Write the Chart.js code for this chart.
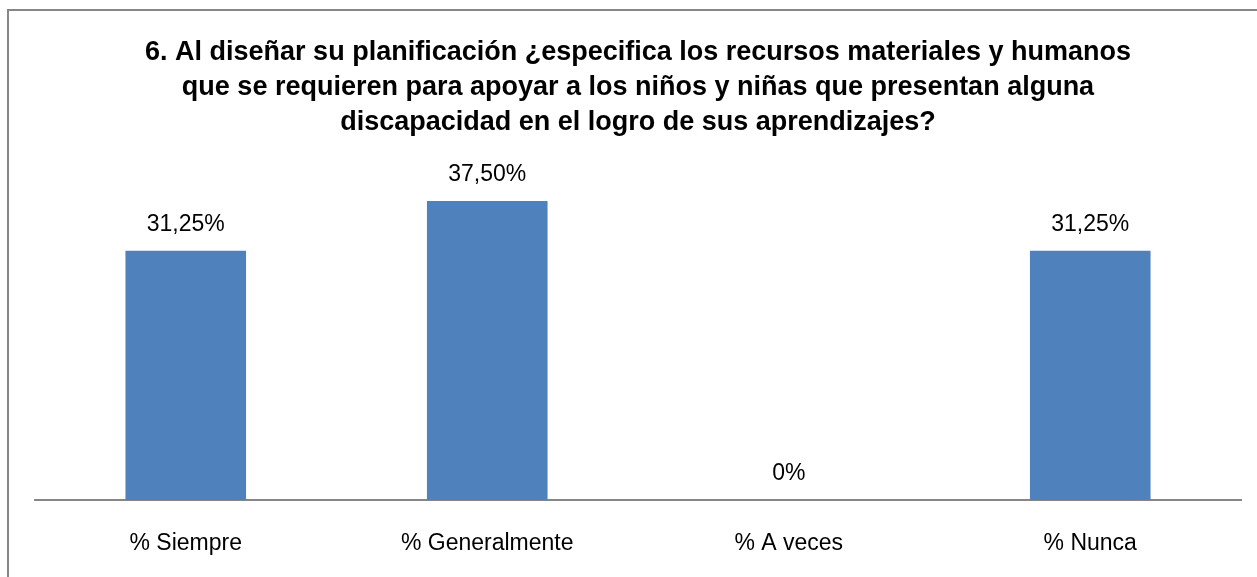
<!DOCTYPE html>
<html>
<head>
<meta charset="utf-8">
<script src="https://cdn.jsdelivr.net/npm/chart.js@4/dist/chart.umd.min.js"></script>
<style>
  html, body { margin: 0; padding: 0; background: #fff; }
  #wrap { width: 1257px; height: 577px; position: relative; }
</style>
</head>
<body>
<div id="wrap"><canvas id="chart"></canvas></div>
<script>
const titleLines = [
  "6. Al diseñar su planificación ¿especifica los recursos materiales y humanos",
  "que se requieren para apoyar a los niños y niñas que presentan alguna",
  "discapacidad en el logro de sus aprendizajes?"
];
const categories = ["% Siempre", "% Generalmente", "% A veces", "% Nunca"];
const percentValues = [31.25, 37.5, 0, 31.25];
const valueLabels = ["31,25%", "37,50%", "0%", "31,25%"];

const FONT = "'Liberation Sans', Arial, sans-serif";

// outer frame (only left and top edges are visible in the picture)
const framePlugin = {
  id: "frame",
  beforeDraw(chart) {
    const ctx = chart.ctx;
    ctx.save();
    ctx.strokeStyle = "#868686";
    ctx.lineWidth = 2;
    ctx.beginPath();
    ctx.moveTo(8, chart.height);
    ctx.lineTo(8, 10);
    ctx.lineTo(chart.width, 10);
    ctx.stroke();
    ctx.restore();
  }
};

// value labels above each bar
const valueLabelPlugin = {
  id: "valueLabels",
  afterDatasetsDraw(chart) {
    const ctx = chart.ctx;
    const meta = chart.getDatasetMeta(0);
    ctx.save();
    ctx.font = "23px " + FONT;
    ctx.fillStyle = "#000";
    ctx.textAlign = "center";
    ctx.textBaseline = "middle";
    meta.data.forEach((bar, i) => {
      ctx.fillText(valueLabels[i], bar.x, bar.y - 26);
    });
    ctx.restore();
  }
};

new Chart(document.getElementById("chart"), {
  type: "bar",
  data: {
    labels: categories,
    datasets: [{
      data: percentValues,
      backgroundColor: "#4F81BD",
      barPercentage: 0.4,
      categoryPercentage: 1.0
    }]
  },
  options: {
    responsive: true,
    maintainAspectRatio: false,
    animation: false,
    // ticks padding counts twice in the axis height, hence the negative bottom
    layout: { padding: { left: 35, right: 16, top: 0, bottom: -10.6 } },
    plugins: {
      legend: { display: false },
      tooltip: { enabled: false },
      title: {
        display: true,
        text: titleLines,
        color: "#000",
        font: { family: FONT, size: 27, weight: "bold", lineHeight: 1.296 },
        padding: { top: 35, bottom: 41 }
      }
    },
    scales: {
      x: {
        grid: { display: false, drawTicks: false },
        border: { display: true, color: "#868686", width: 2 },
        ticks: { color: "#000", font: { family: FONT, size: 23 }, padding: 30 }
      },
      y: {
        display: false,
        min: 0,
        max: 40
      }
    }
  },
  plugins: [framePlugin, valueLabelPlugin]
});
</script>
</body>
</html>
